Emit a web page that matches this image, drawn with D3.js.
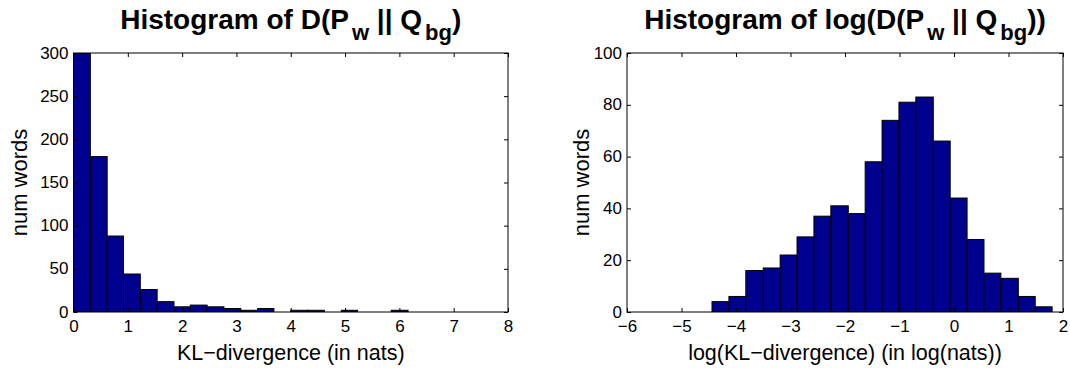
<!DOCTYPE html>
<html><head><meta charset="utf-8">
<script src="https://cdn.jsdelivr.net/npm/d3@7"></script>
<style>
body{margin:0;background:#fff}
text{font-family:"Liberation Sans",Arial,Helvetica,sans-serif;fill:#000}
</style>
</head><body>
<svg id="c" width="1070" height="368"></svg>
<script>
// ---- data ----
const leftBinEdges = [0, 0.31, 0.62, 0.92, 1.23, 1.54, 1.85, 2.15, 2.46, 2.77, 3.08, 3.39, 3.69, 4.00, 4.31, 4.62, 4.93, 5.23, 5.54, 5.85, 6.16];
const leftCounts = [300, 180, 88, 44, 26, 12, 6, 8, 6, 4, 2, 4, 0, 2, 2, 0, 2, 0, 0, 2];
const rightBinEdges = [-4.44, -4.13, -3.82, -3.50, -3.19, -2.88, -2.57, -2.26, -1.94, -1.63, -1.32, -1.01, -0.70, -0.38, -0.07, 0.24, 0.55, 0.86, 1.18, 1.49, 1.80];
const rightCounts = [4, 6, 16, 17, 22, 29, 37, 41, 38, 58, 74, 81, 83, 66, 44, 28, 15, 13, 6, 2];
const leftXTicks = [0, 1, 2, 3, 4, 5, 6, 7, 8];
const leftYTicks = [0, 50, 100, 150, 200, 250, 300];
const rightXTicks = [-6, -5, -4, -3, -2, -1, 0, 1, 2];
const rightYTicks = [0, 20, 40, 60, 80, 100];
const leftTitle = ["Histogram of D(P", "w", " || Q", "bg", ")"];
const rightTitle = ["Histogram of log(D(P", "w", " || Q", "bg", "))"];
const leftXLabel = "KL\u2212divergence (in nats)";
const rightXLabel = "log(KL\u2212divergence) (in log(nats))";
const yLabel = "num words";

const svg = d3.select("#c");
const barFill = "#00008f";

function panel(opt) {
  const {x0, x1, y0, y1, xDomain, yDomain, edges, counts, xTicks, yTicks, title, xLabel, yLabelX} = opt;
  const x = d3.scaleLinear().domain(xDomain).range([x0, x1]);
  const y = d3.scaleLinear().domain(yDomain).range([y1, y0]);
  const g = svg.append("g");

  g.append("clipPath").attr("id", "clip" + x0).append("rect")
    .attr("x", x0).attr("y", y0).attr("width", x1 - x0).attr("height", y1 - y0);

  g.append("g").attr("clip-path", `url(#clip${x0})`)
    .selectAll("rect").data(counts).join("rect")
    .attr("x", (d, i) => x(edges[i]))
    .attr("width", (d, i) => x(edges[i + 1]) - x(edges[i]))
    .attr("y", d => y(d))
    .attr("height", d => y(0) - y(d))
    .attr("fill", barFill)
    .attr("stroke", "#000")
    .attr("stroke-width", 1);

  const tl = 4;
  const fmt = d3.format("");
  const ax = (axis, tr, labels) => {
    const a = g.append("g").attr("transform", tr).call(axis);
    a.select(".domain").remove();
    a.selectAll(".tick line").attr("stroke", "#000");
    a.selectAll(".tick text").style("font-size", "17px").attr("fill", "#000");
    if (!labels) a.selectAll(".tick text").remove();
    return a;
  };
  const bx = ax(d3.axisBottom(x).tickValues(xTicks).tickSize(-tl).tickFormat(fmt), `translate(0,${y1})`, true);
  bx.selectAll(".tick text").attr("dy", "0.71em").attr("y", 8);
  ax(d3.axisTop(x).tickValues(xTicks).tickSize(-tl), `translate(0,${y0})`, false);
  const ly = ax(d3.axisLeft(y).tickValues(yTicks).tickSize(-tl).tickFormat(fmt), `translate(${x0},0)`, true);
  ly.selectAll(".tick text").attr("x", -5).attr("dy", "0.3em");
  ax(d3.axisRight(y).tickValues(yTicks).tickSize(-tl), `translate(${x1},0)`, false);

  g.append("rect").attr("x", x0).attr("y", y0).attr("width", x1 - x0).attr("height", y1 - y0)
    .attr("fill", "none").attr("stroke", "#000").attr("stroke-width", 1);

  const cx = (x0 + x1) / 2;
  const t = g.append("text").attr("x", cx).attr("y", 29).attr("text-anchor", "middle")
    .style("font-size", "28px").style("font-weight", "bold");
  title.forEach((s, i) => {
    const sub = i % 2 === 1;
    t.append("tspan").text(s)
      .attr("dy", i === 0 ? 0 : (sub ? 11 : -11))
      .attr("dx", sub ? 3 : 0)
      .style("font-size", sub ? "22px" : "28px");
  });

  g.append("text").attr("x", cx).attr("y", 360).attr("text-anchor", "middle")
    .style("font-size", "21.5px").text(xLabel);
  g.append("text").attr("transform", `translate(${yLabelX},${(y0 + y1) / 2}) rotate(-90)`)
    .attr("text-anchor", "middle").style("font-size", "22px").text(yLabel);
}

panel({x0: 73.5, x1: 508, y0: 53, y1: 312, xDomain: [0, 8], yDomain: [0, 300],
  edges: leftBinEdges, counts: leftCounts, xTicks: leftXTicks, yTicks: leftYTicks,
  title: leftTitle, xLabel: leftXLabel, yLabelX: 27});
panel({x0: 627, x1: 1063, y0: 53, y1: 312, xDomain: [-6, 2], yDomain: [0, 100],
  edges: rightBinEdges, counts: rightCounts, xTicks: rightXTicks, yTicks: rightYTicks,
  title: rightTitle, xLabel: rightXLabel, yLabelX: 589});
</script>
</body></html>
